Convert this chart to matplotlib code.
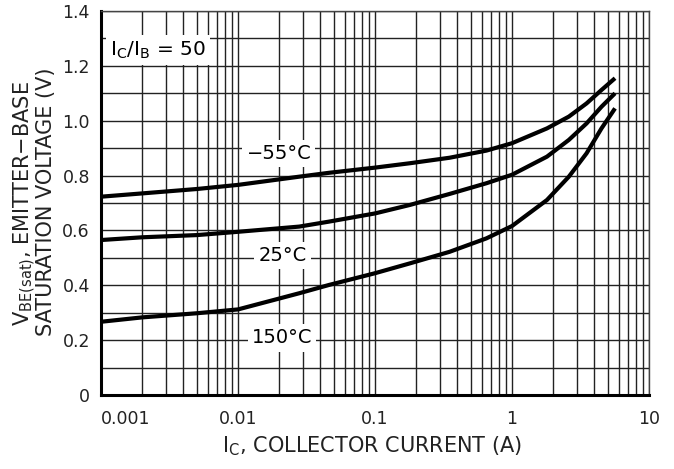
import matplotlib
matplotlib.use("Agg")
import matplotlib.pyplot as plt
from matplotlib.ticker import LogLocator, FixedLocator, NullFormatter

plt.rcParams['font.family'] = ['DejaVu Sans']
plt.rcParams['mathtext.fontset'] = 'dejavusans'

# Collector current (A)
ic = [0.001, 0.002, 0.005, 0.01, 0.028, 0.046, 0.1, 0.18, 0.35, 0.65, 1.0, 1.8, 2.6, 3.5, 4.5, 5.65]
# VBE(sat) (V)
v_m55 = [0.723, 0.735, 0.751, 0.766, 0.796, 0.810, 0.829, 0.845, 0.865, 0.891, 0.918, 0.972, 1.015, 1.063, 1.112, 1.155]
v_25 = [0.565, 0.575, 0.583, 0.595, 0.614, 0.632, 0.662, 0.693, 0.733, 0.772, 0.803, 0.869, 0.930, 0.990, 1.051, 1.100]
v_150 = [0.267, 0.283, 0.298, 0.312, 0.371, 0.401, 0.444, 0.480, 0.522, 0.571, 0.616, 0.711, 0.796, 0.881, 0.972, 1.045]

series_labels = ["\u221255\u00b0C", "25\u00b0C", "150\u00b0C"]
xticks = [0.001, 0.01, 0.1, 1, 10]
xticklabels = ["0.001", "0.01", "0.1", "1", "10"]
yticks = [0, 0.2, 0.4, 0.6, 0.8, 1.0, 1.2, 1.4]
yticklabels = ["0", "0.2", "0.4", "0.6", "0.8", "1.0", "1.2", "1.4"]

W, H = 674, 469
fig = plt.figure(figsize=(W / 100, H / 100), dpi=100)
L, R, T, B = 101, 649, 11, 395
ax = fig.add_axes([L / W, (H - B) / H, (R - L) / W, (B - T) / H])

ax.set_xscale('log')
ax.set_xlim(0.001, 10)
ax.set_ylim(0, 1.4)

for v in (v_m55, v_25, v_150):
    ax.plot(ic, v, color='black', lw=3.0, solid_capstyle='butt', solid_joinstyle='round', zorder=3)

ax.xaxis.set_major_locator(FixedLocator(xticks))
ax.set_xticklabels(xticklabels)
ax.xaxis.set_minor_locator(LogLocator(base=10, subs=range(2, 10), numticks=20))
ax.xaxis.set_minor_formatter(NullFormatter())
ax.set_yticks(yticks)
ax.set_yticklabels(yticklabels)
ax.yaxis.set_minor_locator(FixedLocator([0.1, 0.3, 0.5, 0.7, 0.9, 1.1, 1.3]))

ax.grid(True, which='both', axis='both', color='#222222', lw=1.0, zorder=1)
ax.set_axisbelow(True)
ax.tick_params(which='both', length=0, labelsize=12.5, colors='#222222')
ax.tick_params(axis='x', pad=11)
ax.tick_params(axis='y', pad=8)
for lbl in ax.get_xticklabels():
    if lbl.get_text() == "0.001":
        lbl.set_horizontalalignment('left')

for s in ('top', 'right'):
    ax.spines[s].set_linewidth(1.0)
    ax.spines[s].set_color('#444444')
for s in ('left', 'bottom'):
    ax.spines[s].set_linewidth(2.2)
    ax.spines[s].set_color('black')

box = dict(facecolor='white', edgecolor='none', pad=3)
ax.text(0.0026, 1.258, "$\\mathregular{I_C/I_B}$ = 50", fontsize=14.5, ha='center', va='center',
        bbox=dict(facecolor='white', edgecolor='none', pad=3), zorder=4)
ax.text(0.0199, 0.879, series_labels[0], fontsize=14, ha='center', va='center', bbox=box, zorder=4)
ax.text(0.0212, 0.510, series_labels[1], fontsize=14, ha='center', va='center', bbox=box, zorder=4)
ax.text(0.0209, 0.208, series_labels[2], fontsize=14, ha='center', va='center', bbox=box, zorder=4)

fig.text(372 / W, 1 - 452 / H, "$\\mathregular{I_C}$, COLLECTOR CURRENT (A)", fontsize=15,
         ha='center', va='baseline', color='#222222')
fig.text(24.5 / W, 1 - 203 / H, "$\\mathregular{V_{BE(sat)}}$, EMITTER\u2212BASE", fontsize=15,
         ha='center', va='center', rotation=90, color='#222222')
fig.text(46.5 / W, 1 - 202 / H, "SATURATION VOLTAGE (V)", fontsize=15,
         ha='center', va='center', rotation=90, color='#222222')

fig.savefig("out.png", dpi=100)
